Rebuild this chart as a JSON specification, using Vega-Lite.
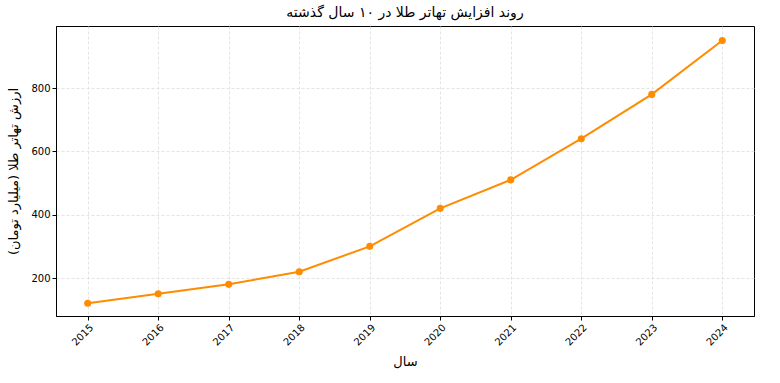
{
  "$schema": "https://vega.github.io/schema/vega-lite/v6.json",
  "autosize": {"type": "none"},
  "padding": {"left": 56, "top": 26, "right": 26, "bottom": 67},
  "width": 698,
  "height": 290,
  "background": "white",
  "title": {
    "text": "روند افزایش تهاتر طلا در ۱۰ سال گذشته",
    "font": "DejaVu Sans",
    "fontSize": 14,
    "fontWeight": "normal",
    "color": "black",
    "anchor": "middle",
    "offset": 6
  },
  "config": {
    "view": {"stroke": "black", "strokeWidth": 1},
    "axis": {
      "labelFont": "DejaVu Sans",
      "titleFont": "DejaVu Sans",
      "labelFontSize": 10,
      "titleFontSize": 13,
      "titleFontWeight": "normal",
      "labelColor": "black",
      "titleColor": "black",
      "tickColor": "black",
      "domainColor": "black",
      "tickSize": 4,
      "gridColor": "#dddddd",
      "gridDash": [3, 2],
      "gridWidth": 0.8
    }
  },
  "data": {
    "values": [
      {"year": 2015, "value": 120},
      {"year": 2016, "value": 150},
      {"year": 2017, "value": 180},
      {"year": 2018, "value": 220},
      {"year": 2019, "value": 300},
      {"year": 2020, "value": 420},
      {"year": 2021, "value": 510},
      {"year": 2022, "value": 640},
      {"year": 2023, "value": 780},
      {"year": 2024, "value": 950}
    ]
  },
  "mark": {"type": "line", "color": "#ff8c00", "strokeWidth": 2, "point": {"filled": true, "size": 50, "color": "#ff8c00"}},
  "encoding": {
    "x": {
      "field": "year",
      "type": "quantitative",
      "scale": {"domain": [2014.55, 2024.45], "nice": false, "zero": false},
      "axis": {
        "values": [2015, 2016, 2017, 2018, 2019, 2020, 2021, 2022, 2023, 2024],
        "format": "d",
        "labelAngle": -45,
        "labelAlign": "right",
        "labelBaseline": "top",
        "title": "سال",
        "titlePadding": 8
      }
    },
    "y": {
      "field": "value",
      "type": "quantitative",
      "scale": {"domain": [80, 996], "nice": false, "zero": false},
      "axis": {
        "values": [200, 400, 600, 800],
        "title": "ارزش تهاتر طلا (میلیارد تومان)",
        "titlePadding": 10
      }
    }
  }
}
